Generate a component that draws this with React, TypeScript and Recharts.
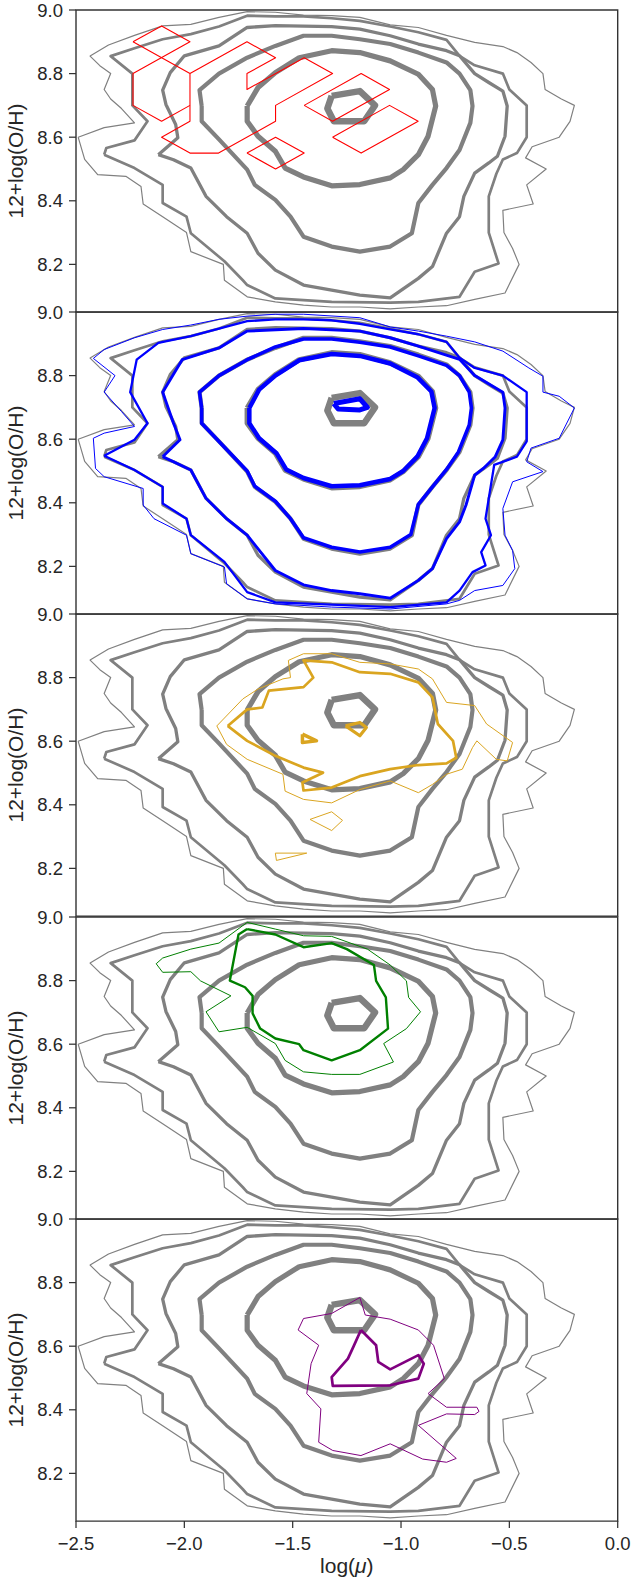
import { ComposedChart, Line, XAxis, YAxis, ReferenceArea } from "recharts";

type Pt = [number, number];

const X_TICKS = [-2.5, -2.0, -1.5, -1.0, -0.5, 0.0];
const Y_TICKS = [8.2, 8.4, 8.6, 8.8, 9.0];
const X_DOMAIN: [number, number] = [-2.5, 0];
const Y_DOMAIN: [number, number] = [8.05, 9.0];

// reference (all galaxies) density contours, outer -> inner
const GREY_1: Pt[] = [
  [-2.49, 8.6], [-2.37, 8.63], [-2.23, 8.645], [-2.29, 8.69], [-2.34, 8.72], [-2.37, 8.75],
  [-2.34, 8.8], [-2.39, 8.825], [-2.435, 8.855], [-2.35, 8.89], [-2.23, 8.92], [-2.1, 8.95],
  [-1.97, 8.955], [-1.84, 8.977], [-1.71, 8.995], [-1.58, 8.993], [-1.45, 8.984], [-1.32, 8.982],
  [-1.19, 8.977], [-1.05, 8.953], [-0.92, 8.945], [-0.79, 8.92], [-0.66, 8.898], [-0.53, 8.885],
  [-0.465, 8.866], [-0.4, 8.835], [-0.345, 8.8], [-0.335, 8.75], [-0.26, 8.72], [-0.2, 8.7],
  [-0.22, 8.65], [-0.27, 8.6], [-0.395, 8.57], [-0.425, 8.535], [-0.33, 8.5], [-0.42, 8.45],
  [-0.39, 8.39], [-0.53, 8.37], [-0.525, 8.3], [-0.485, 8.25], [-0.455, 8.2], [-0.52, 8.11],
  [-0.66, 8.09], [-0.79, 8.07], [-0.92, 8.066], [-1.05, 8.06], [-1.19, 8.066], [-1.32, 8.066],
  [-1.45, 8.072], [-1.58, 8.082], [-1.71, 8.098], [-1.815, 8.15], [-1.82, 8.2], [-1.97, 8.24],
  [-1.99, 8.3], [-2.1, 8.35], [-2.19, 8.39], [-2.2, 8.445], [-2.27, 8.477], [-2.4, 8.482],
  [-2.46, 8.53],
];
const GREY_2: Pt[] = [
  [-2.37, 8.545], [-2.36, 8.566], [-2.23, 8.59], [-2.17, 8.65], [-2.24, 8.7], [-2.24, 8.8],
  [-2.34, 8.855], [-2.23, 8.88], [-2.1, 8.908], [-1.97, 8.924], [-1.84, 8.948], [-1.71, 8.982],
  [-1.58, 8.98], [-1.45, 8.98], [-1.32, 8.974], [-1.19, 8.966], [-1.05, 8.948], [-0.92, 8.93],
  [-0.79, 8.906], [-0.73, 8.856], [-0.66, 8.826], [-0.53, 8.8], [-0.5, 8.75], [-0.42, 8.7],
  [-0.42, 8.6], [-0.465, 8.55], [-0.53, 8.53], [-0.56, 8.485], [-0.595, 8.414], [-0.595, 8.3],
  [-0.55, 8.203], [-0.66, 8.177], [-0.73, 8.098], [-0.92, 8.082], [-1.05, 8.08], [-1.32, 8.082],
  [-1.58, 8.093], [-1.71, 8.135], [-1.73, 8.15], [-1.815, 8.21], [-1.84, 8.224], [-1.97, 8.298],
  [-1.99, 8.35], [-2.1, 8.393], [-2.1, 8.45], [-2.23, 8.503],
];
const GREY_3: Pt[] = [
  [-2.12, 8.545], [-2.03, 8.598], [-2.04, 8.64], [-2.085, 8.703], [-2.1, 8.748], [-2.065, 8.803],
  [-2.0, 8.856], [-1.84, 8.887], [-1.71, 8.945], [-1.58, 8.951], [-1.32, 8.948], [-1.19, 8.94],
  [-1.05, 8.919], [-0.92, 8.893], [-0.79, 8.872], [-0.73, 8.856], [-0.66, 8.8], [-0.595, 8.772],
  [-0.53, 8.745], [-0.51, 8.698], [-0.52, 8.603], [-0.555, 8.54], [-0.595, 8.519], [-0.66, 8.487],
  [-0.71, 8.414], [-0.73, 8.35], [-0.79, 8.298], [-0.855, 8.193], [-0.92, 8.156], [-1.05, 8.095],
  [-1.19, 8.103], [-1.32, 8.119], [-1.45, 8.135], [-1.58, 8.182], [-1.66, 8.235], [-1.71, 8.298],
  [-1.805, 8.35], [-1.9, 8.414], [-1.97, 8.503], [-2.05, 8.529],
];
const GREY_4: Pt[] = [
  [-1.92, 8.698], [-1.93, 8.748], [-1.84, 8.8], [-1.71, 8.85], [-1.58, 8.887], [-1.45, 8.919],
  [-1.32, 8.919], [-1.19, 8.908], [-1.05, 8.893], [-0.92, 8.866], [-0.79, 8.835], [-0.73, 8.8],
  [-0.68, 8.748], [-0.67, 8.698], [-0.68, 8.645], [-0.73, 8.56], [-0.79, 8.503], [-0.855, 8.45],
  [-0.92, 8.393], [-0.95, 8.298], [-1.05, 8.256], [-1.19, 8.24], [-1.32, 8.256], [-1.45, 8.287],
  [-1.51, 8.35], [-1.58, 8.403], [-1.675, 8.45], [-1.71, 8.498], [-1.84, 8.593], [-1.92, 8.65],
];
const GREY_5: Pt[] = [
  [-1.71, 8.698], [-1.66, 8.756], [-1.58, 8.803], [-1.47, 8.85], [-1.32, 8.872], [-1.19, 8.866],
  [-1.05, 8.84], [-0.92, 8.798], [-0.855, 8.75], [-0.84, 8.698], [-0.875, 8.603], [-0.92, 8.545],
  [-0.99, 8.498], [-1.05, 8.472], [-1.19, 8.451], [-1.32, 8.447], [-1.45, 8.475], [-1.535, 8.503],
  [-1.58, 8.556], [-1.66, 8.603], [-1.71, 8.65],
];
const GREY_6: Pt[] = [
  [-1.32, 8.73], [-1.19, 8.745], [-1.12, 8.7], [-1.17, 8.65], [-1.31, 8.65], [-1.34, 8.69],
];

// panel 1 (red)
const RED_1: Pt[] = [
  [-2.237, 8.9], [-2.105, 8.95], [-1.974, 8.9], [-2.237, 8.8], [-2.237, 8.7], [-2.105, 8.65], [-1.974, 8.7],
];
const RED_2: Pt[] = [
  [-2.237, 8.9], [-1.974, 8.8], [-1.974, 8.65], [-2.105, 8.6], [-1.974, 8.55], [-1.842, 8.55],
  [-1.579, 8.65], [-1.579, 8.7], [-1.316, 8.8], [-1.447, 8.85], [-1.711, 8.75], [-1.711, 8.8],
  [-1.579, 8.85], [-1.711, 8.9], [-1.974, 8.8],
];
const RED_3: Pt[] = [[-1.711, 8.55], [-1.579, 8.6], [-1.447, 8.55], [-1.579, 8.5]];
const RED_4: Pt[] = [[-1.447, 8.7], [-1.184, 8.8], [-1.053, 8.75], [-1.316, 8.65]];
const RED_5: Pt[] = [[-1.316, 8.6], [-1.053, 8.7], [-0.921, 8.65], [-1.184, 8.55]];

// panel 2 (blue)
const BLUE_1: Pt[] = [
  [-2.42, 8.854], [-2.37, 8.882], [-2.23, 8.919], [-2.1, 8.945], [-1.97, 8.959], [-1.84, 8.977],
  [-1.71, 8.987], [-1.58, 8.993], [-1.45, 8.993], [-1.19, 8.982], [-1.05, 8.953], [-0.92, 8.94],
  [-0.79, 8.924], [-0.66, 8.906], [-0.53, 8.877], [-0.41, 8.824], [-0.345, 8.798], [-0.345, 8.748],
  [-0.27, 8.735], [-0.2, 8.698], [-0.27, 8.603], [-0.4, 8.572], [-0.42, 8.529], [-0.345, 8.498],
  [-0.485, 8.466], [-0.53, 8.382], [-0.52, 8.298], [-0.485, 8.25], [-0.475, 8.193], [-0.53, 8.14],
  [-0.66, 8.124], [-0.73, 8.093], [-0.79, 8.082], [-1.05, 8.066], [-1.32, 8.072], [-1.58, 8.082],
  [-1.71, 8.098], [-1.805, 8.145], [-1.815, 8.198], [-1.97, 8.24], [-1.99, 8.298], [-2.14, 8.35],
  [-2.19, 8.393], [-2.19, 8.445], [-2.37, 8.482], [-2.41, 8.508], [-2.42, 8.603], [-2.37, 8.619],
  [-2.23, 8.64], [-2.29, 8.687], [-2.37, 8.748], [-2.32, 8.8],
];
const BLUE_2: Pt[] = [
  [-2.37, 8.548], [-2.23, 8.598], [-2.17, 8.65], [-2.25, 8.748], [-2.22, 8.85], [-2.12, 8.903],
  [-1.97, 8.924], [-1.84, 8.948], [-1.71, 8.971], [-1.58, 8.977], [-1.45, 8.977], [-1.32, 8.974],
  [-1.19, 8.963], [-1.05, 8.945], [-0.92, 8.93], [-0.79, 8.906], [-0.73, 8.856], [-0.66, 8.824],
  [-0.53, 8.8], [-0.42, 8.748], [-0.42, 8.698], [-0.42, 8.593], [-0.465, 8.545], [-0.57, 8.519],
  [-0.585, 8.456], [-0.61, 8.35], [-0.585, 8.298], [-0.63, 8.245], [-0.61, 8.203], [-0.67, 8.182],
  [-0.73, 8.124], [-0.79, 8.087], [-1.05, 8.072], [-1.32, 8.08], [-1.58, 8.087], [-1.71, 8.119],
  [-1.815, 8.214], [-1.97, 8.298], [-1.99, 8.35], [-2.1, 8.398], [-2.1, 8.45], [-2.23, 8.503],
];
const BLUE_3: Pt[] = [
  [-2.1, 8.545], [-2.02, 8.598], [-2.05, 8.65], [-2.1, 8.748], [-2.01, 8.85], [-1.84, 8.887],
  [-1.71, 8.94], [-1.45, 8.948], [-1.19, 8.94], [-1.05, 8.919], [-0.92, 8.893], [-0.73, 8.851],
  [-0.66, 8.8], [-0.53, 8.748], [-0.52, 8.698], [-0.53, 8.598], [-0.565, 8.545], [-0.62, 8.508],
  [-0.66, 8.487], [-0.7, 8.393], [-0.73, 8.34], [-0.79, 8.287], [-0.855, 8.193], [-0.92, 8.156],
  [-1.05, 8.1], [-1.19, 8.114], [-1.32, 8.124], [-1.45, 8.142], [-1.58, 8.187], [-1.71, 8.298],
  [-1.805, 8.35], [-1.9, 8.414], [-1.97, 8.503],
];
const BLUE_4: Pt[] = [
  [-1.92, 8.698], [-1.93, 8.748], [-1.84, 8.8], [-1.71, 8.85], [-1.58, 8.89], [-1.45, 8.915],
  [-1.32, 8.915], [-1.19, 8.905], [-1.05, 8.89], [-0.92, 8.862], [-0.79, 8.832], [-0.73, 8.8],
  [-0.685, 8.748], [-0.675, 8.698], [-0.685, 8.645], [-0.735, 8.56], [-0.79, 8.505], [-0.855, 8.45],
  [-0.92, 8.395], [-0.955, 8.3], [-1.05, 8.26], [-1.19, 8.245], [-1.32, 8.26], [-1.45, 8.29],
  [-1.51, 8.35], [-1.58, 8.405], [-1.675, 8.452], [-1.71, 8.5], [-1.84, 8.593], [-1.92, 8.65],
];
const BLUE_5: Pt[] = [
  [-1.7, 8.698], [-1.655, 8.756], [-1.58, 8.8], [-1.47, 8.848], [-1.32, 8.868], [-1.19, 8.862],
  [-1.05, 8.838], [-0.925, 8.795], [-0.86, 8.75], [-0.845, 8.698], [-0.88, 8.603], [-0.925, 8.545],
  [-0.99, 8.5], [-1.05, 8.475], [-1.19, 8.455], [-1.32, 8.452], [-1.45, 8.478], [-1.53, 8.505],
  [-1.575, 8.556], [-1.655, 8.603], [-1.7, 8.65],
];
const BLUE_6: Pt[] = [[-1.31, 8.712], [-1.19, 8.727], [-1.155, 8.7], [-1.19, 8.692], [-1.29, 8.695]];

// panel 3 (orange)
const ORANGE_1: Pt[] = [
  [-1.85, 8.648], [-1.73, 8.733], [-1.66, 8.764], [-1.545, 8.796], [-1.51, 8.8], [-1.52, 8.854],
  [-1.45, 8.875], [-1.32, 8.875], [-1.19, 8.848], [-1.05, 8.843], [-0.92, 8.827], [-0.855, 8.796],
  [-0.79, 8.722], [-0.66, 8.712], [-0.605, 8.654], [-0.485, 8.596], [-0.51, 8.538], [-0.56, 8.543],
  [-0.65, 8.601], [-0.67, 8.58], [-0.717, 8.512], [-0.79, 8.496], [-0.855, 8.464], [-0.92, 8.438],
  [-1.05, 8.475], [-1.19, 8.448], [-1.32, 8.406], [-1.45, 8.417], [-1.535, 8.443], [-1.545, 8.496],
  [-1.71, 8.543], [-1.805, 8.59],
];
const ORANGE_2: Pt[] = [
  [-1.8, 8.648], [-1.71, 8.7], [-1.64, 8.706], [-1.61, 8.759], [-1.45, 8.77], [-1.405, 8.8],
  [-1.45, 8.854], [-1.32, 8.848], [-1.19, 8.817], [-1.05, 8.812], [-0.92, 8.785], [-0.855, 8.738],
  [-0.83, 8.654], [-0.76, 8.601], [-0.745, 8.548], [-0.79, 8.53], [-0.92, 8.525], [-1.05, 8.512],
  [-1.19, 8.49], [-1.32, 8.454], [-1.45, 8.445], [-1.455, 8.47], [-1.36, 8.501], [-1.45, 8.517],
  [-1.58, 8.554], [-1.71, 8.601],
];
const ORANGE_3: Pt[] = [[-1.455, 8.622], [-1.39, 8.601], [-1.455, 8.596]];
const ORANGE_4: Pt[] = [[-1.256, 8.648], [-1.19, 8.659], [-1.16, 8.643], [-1.19, 8.617]];
const ORANGE_5: Pt[] = [[-1.42, 8.354], [-1.32, 8.378], [-1.27, 8.351], [-1.32, 8.319]];
const ORANGE_6: Pt[] = [[-1.58, 8.248], [-1.435, 8.248], [-1.575, 8.225]];

// panel 4 (green)
const GREEN_1: Pt[] = [
  [-2.13, 8.853], [-2.1, 8.826], [-1.97, 8.828], [-1.925, 8.799], [-1.785, 8.752], [-1.9, 8.702],
  [-1.84, 8.639], [-1.71, 8.653], [-1.58, 8.602], [-1.535, 8.549], [-1.45, 8.513], [-1.32, 8.505],
  [-1.19, 8.505], [-1.035, 8.544], [-1.08, 8.602], [-0.975, 8.649], [-0.91, 8.702], [-0.965, 8.747],
  [-0.975, 8.799], [-1.05, 8.849], [-1.155, 8.899], [-1.32, 8.939], [-1.45, 8.941], [-1.58, 8.962],
  [-1.71, 8.983], [-1.84, 8.918], [-1.97, 8.899], [-2.1, 8.871],
];
const GREEN_2: Pt[] = [
  [-1.71, 8.962], [-1.58, 8.945], [-1.45, 8.905], [-1.32, 8.918], [-1.25, 8.899], [-1.125, 8.849],
  [-1.115, 8.799], [-1.07, 8.747], [-1.06, 8.649], [-1.19, 8.581], [-1.32, 8.549], [-1.45, 8.581],
  [-1.47, 8.6], [-1.58, 8.618], [-1.65, 8.649], [-1.685, 8.697], [-1.685, 8.752], [-1.72, 8.779],
  [-1.79, 8.8], [-1.75, 8.945],
];

// panel 5 (purple)
const PURPLE_1: Pt[] = [
  [-1.45, 8.687], [-1.32, 8.703], [-1.19, 8.753], [-1.165, 8.698], [-1.05, 8.685], [-0.92, 8.651],
  [-0.85, 8.603], [-0.8, 8.498], [-0.875, 8.451], [-0.79, 8.408], [-0.65, 8.408], [-0.64, 8.395],
  [-0.66, 8.385], [-0.79, 8.387], [-0.92, 8.351], [-0.745, 8.247], [-0.79, 8.235], [-0.9, 8.245],
  [-1.05, 8.293], [-1.185, 8.256], [-1.315, 8.272], [-1.38, 8.298], [-1.37, 8.403], [-1.435, 8.451],
  [-1.415, 8.545], [-1.38, 8.603], [-1.475, 8.651],
];
const PURPLE_2: Pt[] = [
  [-1.185, 8.651], [-1.115, 8.603], [-1.105, 8.551], [-1.05, 8.527], [-0.92, 8.572], [-0.895, 8.545],
  [-0.92, 8.498], [-1.05, 8.477], [-1.315, 8.475], [-1.32, 8.503], [-1.245, 8.561], [-1.22, 8.598],
];

const GREY = "#808080";
const RED = "#ff0000";
const BLUE = "#0000ff";
const ORANGE = "#daa520";
const GREEN = "#008000";
const PURPLE = "#800080";
const AXIS = "#333333";
const FONT = "'Liberation Sans', Arial, Helvetica, sans-serif";

interface Contour {
  pts: Pt[];
  color: string;
  width: number;
  open?: boolean;
}

const greyContours: Contour[] = [
  { pts: GREY_1, color: GREY, width: 1.2 },
  { pts: GREY_2, color: GREY, width: 2.7 },
  { pts: GREY_3, color: GREY, width: 3.3 },
  { pts: GREY_4, color: GREY, width: 4.2 },
  { pts: GREY_5, color: GREY, width: 5.2 },
  { pts: GREY_6, color: GREY, width: 6.5 },
];

const panels: Contour[][] = [
  [
    { pts: RED_1, color: RED, width: 1.1, open: true },
    { pts: RED_2, color: RED, width: 1.1, open: true },
    { pts: RED_3, color: RED, width: 1.1 },
    { pts: RED_4, color: RED, width: 1.1 },
    { pts: RED_5, color: RED, width: 1.1 },
  ],
  [
    { pts: BLUE_1, color: BLUE, width: 1.0 },
    { pts: BLUE_2, color: BLUE, width: 2.3 },
    { pts: BLUE_3, color: BLUE, width: 2.9 },
    { pts: BLUE_4, color: BLUE, width: 3.6 },
    { pts: BLUE_5, color: BLUE, width: 4.5 },
    { pts: BLUE_6, color: BLUE, width: 5.0 },
  ],
  [
    { pts: ORANGE_1, color: ORANGE, width: 1.0 },
    { pts: ORANGE_2, color: ORANGE, width: 2.7 },
    { pts: ORANGE_3, color: ORANGE, width: 3.5 },
    { pts: ORANGE_4, color: ORANGE, width: 3.2 },
    { pts: ORANGE_5, color: ORANGE, width: 1.0 },
    { pts: ORANGE_6, color: ORANGE, width: 1.0 },
  ],
  [
    { pts: GREEN_1, color: GREEN, width: 1.0 },
    { pts: GREEN_2, color: GREEN, width: 2.4 },
  ],
  [
    { pts: PURPLE_1, color: PURPLE, width: 1.0 },
    { pts: PURPLE_2, color: PURPLE, width: 2.7 },
  ],
];

const toRows = (c: Contour) =>
  (c.open ? c.pts : [...c.pts, c.pts[0]]).map(([x, y]) => ({ x, y }));

const fmtX = (v: number) => (v < 0 ? "\u2212" + Math.abs(v).toFixed(1) : v.toFixed(1));

const PLOT_TOP = 10.3;
const PLOT_H = 302.08;
const M_TOP = 16;
const CHART_W = 634;

const Panel = ({ index, overlays, last }: { index: number; overlays: Contour[]; last: boolean }) => {
  const mBottom = last ? 0 : 4;
  const xH = last ? 60 : 0;
  const h = M_TOP + PLOT_H + mBottom + xH;
  const lines = [...greyContours, ...overlays];
  return (
    <div style={{ position: "absolute", left: 0, top: PLOT_TOP + index * PLOT_H - M_TOP }}>
      <ComposedChart
        width={CHART_W}
        height={h}
        margin={{ top: M_TOP, right: 16.3, bottom: mBottom, left: 16 }}
      >
        <XAxis
          type="number"
          dataKey="x"
          domain={X_DOMAIN}
          ticks={X_TICKS}
          allowDataOverflow
          hide={!last}
          height={60}
          axisLine={false}
          tickLine={{ stroke: AXIS, strokeWidth: 1.25 }}
          tickSize={7}
          tickMargin={9}
          tickFormatter={fmtX}
          tick={{ fill: "#262626", fontSize: 18.5, fontFamily: FONT }}
          label={{
            content: () => (
              <text
                x={16 + 60 + 541.7 / 2}
                y={M_TOP + PLOT_H + 52}
                textAnchor="middle"
                fill="#262626"
                fontSize={21}
                fontFamily={FONT}
              >
                log(<tspan fontStyle="italic">μ</tspan>)
              </text>
            ),
          }}
        />
        <YAxis
          type="number"
          dataKey="y"
          domain={Y_DOMAIN}
          ticks={Y_TICKS}
          allowDataOverflow
          width={60}
          axisLine={false}
          tickLine={{ stroke: AXIS, strokeWidth: 1.25 }}
          tickSize={7}
          tickMargin={6}
          tickFormatter={(v: number) => v.toFixed(1)}
          tick={{ fill: "#262626", fontSize: 18.5, fontFamily: FONT }}
          label={{
            content: () => {
              const cx = 16;
              const cy = M_TOP + PLOT_H / 2;
              return (
                <text
                  x={cx}
                  y={cy}
                  transform={`rotate(-90, ${cx}, ${cy})`}
                  textAnchor="middle"
                  dominantBaseline="central"
                  fill="#262626"
                  fontSize={21}
                  fontFamily={FONT}
                >
                  12+log(O/H)
                </text>
              );
            },
          }}
        />
        {lines.map((c, i) => (
          <Line
            key={i}
            data={toRows(c)}
            dataKey="y"
            type="linear"
            stroke={c.color}
            strokeWidth={c.width}
            strokeLinejoin="round"
            dot={false}
            activeDot={false}
            isAnimationActive={false}
          />
        ))}
        <ReferenceArea
          x1={X_DOMAIN[0]}
          x2={X_DOMAIN[1]}
          y1={Y_DOMAIN[0]}
          y2={Y_DOMAIN[1]}
          fill="none"
          fillOpacity={0}
          stroke={AXIS}
          strokeWidth={1.4}
        />
      </ComposedChart>
    </div>
  );
};

export default function App() {
  return (
    <div style={{ position: "absolute", left: 0, top: 0, width: 634, height: 1580, background: "#fff" }}>
      {panels.map((ov, i) => (
        <Panel key={i} index={i} overlays={ov} last={i === panels.length - 1} />
      ))}
    </div>
  );
}
